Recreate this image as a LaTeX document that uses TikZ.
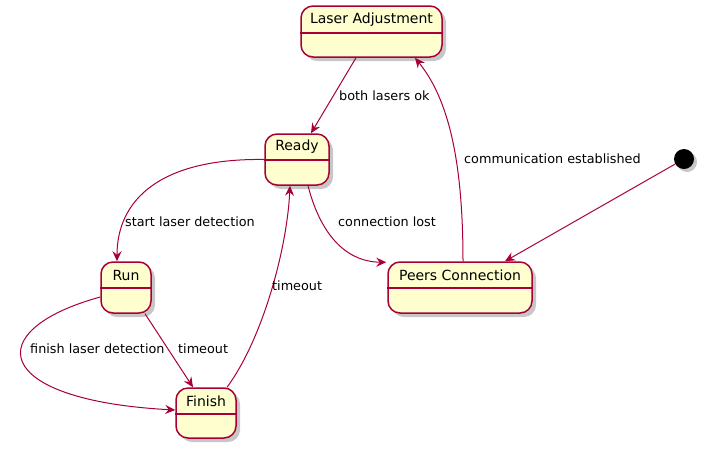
\documentclass[tikz,border=0pt]{standalone}
\usepackage{fontspec}
\setmainfont{DejaVu Sans}
\usetikzlibrary{arrows.meta,shadows}
\definecolor{pumlred}{HTML}{A80036}
\definecolor{pumlfill}{HTML}{FEFECE}
\tikzset{
  statebox/.style={draw=pumlred, line width=1.5pt, fill=pumlfill, rounded corners=12pt,
    inner sep=0pt, drop shadow={shadow xshift=4pt, shadow yshift=-4pt, fill=black, opacity=0.22}},
  title/.style={font=\fontsize{14}{16}\selectfont, inner sep=0pt, anchor=center},
  divider/.style={draw=pumlred, line width=1.5pt},
  edge/.style={draw=pumlred, line width=1pt, -{Stealth[length=10pt,width=9pt,inset=3.5pt]}},
  elabel/.style={font=\fontsize{12.8}{15}\selectfont, inner sep=0pt, anchor=west},
}
\begin{document}
\begin{tikzpicture}[x=1pt,y=-1pt]
\useasboundingbox (0,0) rectangle (704,451);
\fill[white] (0,0) rectangle (704,451);

% states
\node[statebox, minimum width=141pt, minimum height=51pt] (la) at (371.5,31.5) {};
\node[title] (lat) at (371.5,19.5) {Laser Adjustment};
\draw[divider] (la.west |- 0,33) -- (la.east |- 0,33);

\node[statebox, minimum width=64pt, minimum height=51pt] (ready) at (297,159.5) {};
\node[title] (readyt) at (297,147) {Ready};
\draw[divider] (ready.west |- 0,160) -- (ready.east |- 0,160);

\node[statebox, minimum width=50pt, minimum height=51pt] (run) at (126,287.5) {};
\node[title] (runt) at (126,275) {Run};
\draw[divider] (run.west |- 0,288) -- (run.east |- 0,288);

\node[statebox, minimum width=60pt, minimum height=50pt] (fin) at (206,413) {};
\node[title] (fint) at (206,401) {Finish};
\draw[divider] (fin.west |- 0,414) -- (fin.east |- 0,414);

\node[statebox, minimum width=144pt, minimum height=51pt] (peers) at (460,287.5) {};
\node[title] (peerst) at (460,275) {Peers Connection};
\draw[divider] (peers.west |- 0,288) -- (peers.east |- 0,288);

\node[circle, fill=black, minimum size=20pt, inner sep=0pt,
  drop shadow={shadow xshift=3pt, shadow yshift=-3pt, fill=black, opacity=0.22}] (init) at (684,159) {};

% edges
\draw[edge] ([xshift=-15.5pt]la.south) -- ([xshift=14pt]ready.north);
\draw[edge] ([xshift=3pt]peers.north) .. controls (463,150) and (445,95) .. ([xshift=43.5pt]la.south);
\draw[edge] (init) -- ([xshift=45pt]peers.north);
\draw[edge] (ready.west) .. controls (160,158) and (117,200) .. ([xshift=-9pt]run.north);
\draw[edge] ([xshift=11pt]ready.south) .. controls (322,240) and (350,262) .. ([xshift=-1pt,yshift=-1pt]peers.north west);
\draw[edge] ([xshift=21pt]fin.north) .. controls (262,340) and (287,250) .. ([xshift=-7pt]ready.south);
\draw[edge] ([xshift=19pt]run.south) -- ([xshift=-13pt]fin.north);
\draw[edge] ([yshift=-9.5pt]run.west) .. controls (-20,330) and (-10,400) .. ([yshift=3pt]fin.west);

% labels
\node[elabel] (l1) at (339,96) {both lasers ok};
\node[elabel] (l2) at (464,159) {communication established};
\node[elabel] (l3) at (125,222) {start laser detection};
\node[elabel] (l4) at (338,222) {connection lost};
\node[elabel] (l5) at (272,286) {timeout};
\node[elabel] (l6) at (178,349) {timeout};
\node[elabel] (l7) at (30,349) {finish laser detection};
\end{tikzpicture}
\end{document}
